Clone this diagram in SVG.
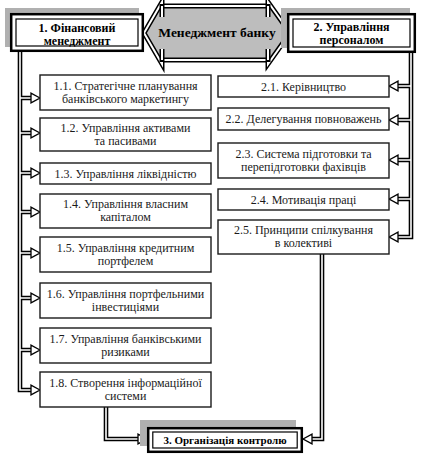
<svg xmlns="http://www.w3.org/2000/svg" xmlns:xlink="http://www.w3.org/1999/xlink" width="426" height="460" viewBox="0 0 426 460">
<style>
.bg{fill:#ffffff}
.shadow{fill:#b0b0b0}
.hb-out{fill:#ffffff;stroke:#000;stroke-width:2.5}
.hb-in{fill:none;stroke:#000;stroke-width:1.2}
.box{fill:#ffffff;stroke:#1a1a1a;stroke-width:1.4}
.t{font-family:"Liberation Serif","Times New Roman",serif;font-size:12px;fill:#1a1a1a;text-anchor:middle}
.h{font-family:"Liberation Serif","Times New Roman",serif;font-size:12px;font-weight:bold;fill:#000;text-anchor:middle}
.hc{font-family:"Liberation Serif","Times New Roman",serif;font-size:13.5px;font-weight:bold;fill:#000;text-anchor:middle}
.dk{fill:none;stroke:#000;stroke-width:4.6;stroke-linejoin:miter}
.wh{fill:none;stroke:#fff;stroke-width:1.6;stroke-linejoin:miter}
.ah{fill:#fff;stroke:#000;stroke-width:1.3;stroke-linejoin:miter}
.arr-dk{fill:#bdbdbd;stroke:#000;stroke-width:5;stroke-linejoin:miter}
.arr-wh{fill:none;stroke:#fff;stroke-width:2;stroke-linejoin:miter}
</style>
<defs>
<path id="ahr" class="ah" d="M0,0 L-9,-4.8 L-9,4.8 Z"/>
<path id="ahl" class="ah" d="M0,0 L9,-4.8 L9,4.8 Z"/>
</defs>
<rect class="bg" x="0" y="0" width="426" height="460"/>

<g id="connectors">
  <g class="dk">
    <path d="M20,52 V390 H32"/>
    <path d="M20,98 H32 M20,133 H32 M20,173 H32 M20,212 H32 M20,253 H32 M20,298 H32 M20,350 H32"/>
    <path d="M411,53 V237 H398"/>
    <path d="M411,86 H398 M411,120 H398 M411,160 H398 M411,199 H398"/>
    <path d="M106,407 V439 H138"/>
    <path d="M322,254 V439 H312"/>
  </g>
  <g class="wh">
    <path d="M20,52 V390 H32"/>
    <path d="M20,98 H32 M20,133 H32 M20,173 H32 M20,212 H32 M20,253 H32 M20,298 H32 M20,350 H32"/>
    <path d="M411,53 V237 H398"/>
    <path d="M411,86 H398 M411,120 H398 M411,160 H398 M411,199 H398"/>
    <path d="M106,407 V439 H138"/>
    <path d="M322,254 V439 H312"/>
  </g>
  <use xlink:href="#ahr" x="40" y="98"/>
  <use xlink:href="#ahr" x="40" y="133"/>
  <use xlink:href="#ahr" x="40" y="173"/>
  <use xlink:href="#ahr" x="40" y="212"/>
  <use xlink:href="#ahr" x="40" y="253"/>
  <use xlink:href="#ahr" x="40" y="298"/>
  <use xlink:href="#ahr" x="40" y="350"/>
  <use xlink:href="#ahr" x="40" y="390"/>
  <use xlink:href="#ahl" x="389" y="86"/>
  <use xlink:href="#ahl" x="389" y="120"/>
  <use xlink:href="#ahl" x="389" y="160"/>
  <use xlink:href="#ahl" x="389" y="199"/>
  <use xlink:href="#ahl" x="389" y="237"/>
  <use xlink:href="#ahr" x="147" y="439"/>
  <use xlink:href="#ahl" x="303" y="439"/>
</g>

<g id="node-center">
  <path class="arr-dk" d="M144,33 L162,2 L162,6 L268,6 L268,2 L290,33 L268,64 L268,60 L162,60 L162,64 Z"/>
  <path class="arr-wh" d="M144,33 L162,2 L162,6 L268,6 L268,2 L290,33 L268,64 L268,60 L162,60 L162,64 Z"/>
  <path class="dk" style="stroke-width:5" d="M162,4 V17 M162,49 V62 M268,4 V17 M268,49 V62"/>
  <path class="wh" style="stroke-width:2" d="M162,6 V17 M162,49 V60 M268,6 V17 M268,49 V60"/>
  <text class="hc" x="217" y="37">Менеджмент банку</text>
</g>

<g id="node-1">
  <rect class="shadow" x="5" y="8" width="134" height="39"/>
  <rect class="hb-out" x="11.2" y="14.2" width="131.6" height="36.6"/>
  <rect class="hb-in" x="16" y="19" width="122" height="27"/>
  <text class="h" x="77" y="32">1. Фінансовий</text>
  <text class="h" x="77" y="45">менеджмент</text>
</g>

<g id="node-2">
  <rect class="shadow" x="281" y="8" width="129" height="40"/>
  <rect class="hb-out" x="288.2" y="14.2" width="126.6" height="37.6"/>
  <rect class="hb-in" x="293" y="19" width="117" height="28"/>
  <text class="h" x="351.5" y="31">2. Управління</text>
  <text class="h" x="351.5" y="44">персоналом</text>
</g>

<g id="node-3">
  <rect class="shadow" x="140" y="420" width="156" height="26"/>
  <rect class="hb-out" x="148.2" y="428.2" width="153.6" height="23.6"/>
  <rect class="hb-in" x="152.8" y="432" width="144.4" height="16"/>
  <text class="h" style="font-size:11px" x="225" y="444">3. Організація контролю</text>
</g>

<g id="node-1-1"><rect class="box" x="40" y="75" width="171" height="35"/>
  <text class="t" x="125.5" y="90">1.1. Стратегічне планування</text>
  <text class="t" x="125.5" y="103">банківського маркетингу</text></g>
<g id="node-1-2"><rect class="box" x="40" y="118" width="171" height="33"/>
  <text class="t" x="125.5" y="132">1.2. Управління активами</text>
  <text class="t" x="125.5" y="145">та пасивами</text></g>
<g id="node-1-3"><rect class="box" x="40" y="163" width="171" height="21"/>
  <text class="t" x="125.5" y="177.5">1.3. Управління ліквідністю</text></g>
<g id="node-1-4"><rect class="box" x="40" y="194" width="171" height="34"/>
  <text class="t" x="125.5" y="208">1.4. Управління власним</text>
  <text class="t" x="125.5" y="221">капіталом</text></g>
<g id="node-1-5"><rect class="box" x="40" y="237" width="171" height="35"/>
  <text class="t" x="125.5" y="252">1.5. Управління кредитним</text>
  <text class="t" x="125.5" y="265">портфелем</text></g>
<g id="node-1-6"><rect class="box" x="40" y="283" width="171" height="35"/>
  <text class="t" x="125.5" y="298">1.6. Управління портфельними</text>
  <text class="t" x="125.5" y="311">інвестиціями</text></g>
<g id="node-1-7"><rect class="box" x="40" y="328" width="171" height="35"/>
  <text class="t" x="125.5" y="343">1.7. Управління банківськими</text>
  <text class="t" x="125.5" y="356">ризиками</text></g>
<g id="node-1-8"><rect class="box" x="40" y="372" width="171" height="35"/>
  <text class="t" x="125.5" y="387">1.8. Створення інформаційної</text>
  <text class="t" x="125.5" y="400">системи</text></g>

<g id="node-2-1"><rect class="box" x="218" y="76" width="171" height="21"/>
  <text class="t" x="303.5" y="90.5">2.1. Керівництво</text></g>
<g id="node-2-2"><rect class="box" x="218" y="108" width="171" height="22"/>
  <text class="t" x="303.5" y="123">2.2. Делегування повноважень</text></g>
<g id="node-2-3"><rect class="box" x="218" y="143" width="171" height="35"/>
  <text class="t" x="303.5" y="158">2.3. Система підготовки та</text>
  <text class="t" x="303.5" y="171">перепідготовки фахівців</text></g>
<g id="node-2-4"><rect class="box" x="218" y="189" width="171" height="21"/>
  <text class="t" x="303.5" y="203.5">2.4. Мотивація праці</text></g>
<g id="node-2-5"><rect class="box" x="218" y="220" width="171" height="34"/>
  <text class="t" x="303.5" y="234">2.5. Принципи спілкування</text>
  <text class="t" x="303.5" y="247">в колективі</text></g>
</svg>
